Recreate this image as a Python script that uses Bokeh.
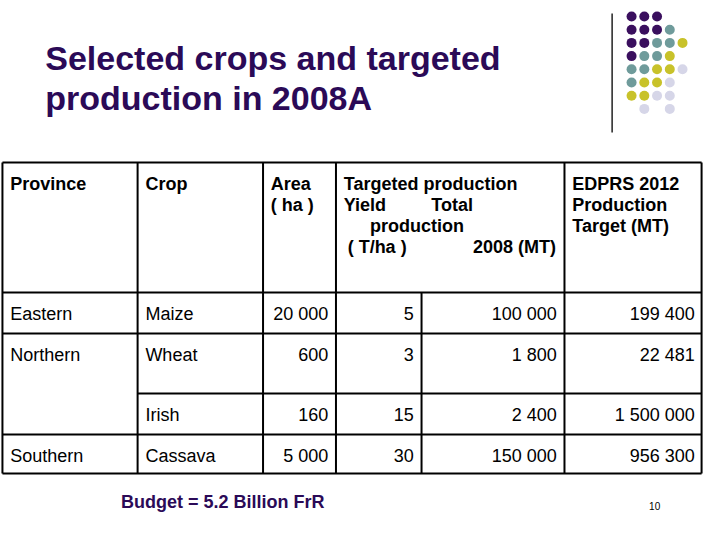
from bokeh.plotting import figure
from bokeh.models import Range1d
from bokeh.embed import file_html
from bokeh.resources import INLINE
from bokeh.core.properties import value

# ---------------- data ----------------
title_lines = ["Selected crops and targeted", "production in 2008A"]
provinces = ["Eastern", "Northern", "", "Southern"]
crops = ["Maize", "Wheat", "Irish", "Cassava"]
area_ha = [20000, 600, 160, 5000]
yield_t_ha = [5, 3, 15, 30]
total_2008_mt = [100000, 1800, 2400, 150000]
edprs_2012_mt = [199400, 22481, 1500000, 956300]
budget_note = "Budget = 5.2 Billion FrR"
page_number = "10"

def fmt(v):
    return f"{v:,}".replace(",", " ")

FONT = value("Liberation Sans")
PURPLE = "#2B0A57"

p = figure(width=704, height=524, x_range=Range1d(-2, 722), y_range=Range1d(524, 0),
           output_backend="svg", toolbar_location=None, min_border=0,
           x_axis_location=None, y_axis_location=None)
p.grid.visible = False
p.outline_line_color = None

# ---------------- decoration ----------------
p.segment(x0=[627], y0=[13], x1=[627], y1=[132], line_color="#222222", line_width=1.5)
dot_rows = ["PPP..", "PPPT.", "PPTTY", "PTTY.", "TTYYL", "TYYL.", "YYLL.", ".L.L."]
dot_cols = {"P": "#3A0F5E", "T": "#6F9B9B", "Y": "#C8C22A", "L": "#D6D6E8"}
dx, dy, dc = [], [], []
for r, row in enumerate(dot_rows):
    for c, ch in enumerate(row):
        if ch in dot_cols:
            dx.append(647 + 13.1 * c)
            dy.append(16 + 13.2 * r)
            dc.append(dot_cols[ch])
p.scatter(dx, dy, size=10, fill_color=dc, line_color=None)

# ---------------- title ----------------
p.text(x=[44, 44], y=[57, 97], text=title_lines, text_font=FONT, text_font_style="bold",
       text_font_size="34px", text_color=PURPLE, text_baseline="alphabetic")

# ---------------- table grid ----------------
col_x = [0, 139, 268, 343, 578, 719]
split_x = 431
head_top = 162
row_b = [292, 333, 393, 434, 473]
x0, y0, x1, y1 = [], [], [], []
for y in [head_top, row_b[0], row_b[1], row_b[3], row_b[4]]:
    x0 += [col_x[0]]; x1 += [col_x[-1]]; y0 += [y]; y1 += [y]
x0 += [col_x[1]]; x1 += [col_x[-1]]; y0 += [row_b[2]]; y1 += [row_b[2]]
for x in col_x:
    x0 += [x]; x1 += [x]; y0 += [head_top]; y1 += [row_b[-1]]
x0 += [split_x]; x1 += [split_x]; y0 += [row_b[0]]; y1 += [row_b[-1]]
p.segment(x0=x0, y0=y0, x1=x1, y1=y1, line_color="black", line_width=2)

# ---------------- header ----------------
hb = head_top + 21
ls = 21
hx = [8, 147, 276, 276, 351, 351, 441, 378, 355, 484, 586, 586, 586]
hy = [hb, hb, hb, hb + ls, hb, hb + ls, hb + ls, hb + 2 * ls, hb + 3 * ls, hb + 3 * ls, hb, hb + ls, hb + 2 * ls]
ht = ["Province", "Crop", "Area", "( ha )", "Targeted production", "Yield", "Total",
      "production", "( T/ha )", "2008 (MT)", "EDPRS 2012", "Production", "Target (MT)"]
p.text(x=hx, y=hy, text=ht, text_font=FONT, text_font_style="bold", text_font_size="18px",
       text_color="black", text_baseline="alphabetic")

# ---------------- body ----------------
base = [t + 21 for t in row_b[:-1]]
p.text(x=[8] * 4, y=base, text=provinces, text_font=FONT, text_font_size="18px",
       text_color="black", text_baseline="alphabetic")
p.text(x=[147] * 4, y=base, text=crops, text_font=FONT, text_font_size="18px",
       text_color="black", text_baseline="alphabetic")
for right, vals in [(col_x[3] - 8, area_ha), (split_x - 8, yield_t_ha),
                    (col_x[4] - 8, total_2008_mt), (col_x[5] - 7, edprs_2012_mt)]:
    p.text(x=[right] * 4, y=base, text=[fmt(v) for v in vals], text_font=FONT,
           text_font_size="18px", text_color="black", text_align="right",
           text_baseline="alphabetic")

# ---------------- footer ----------------
p.text(x=[122], y=[501], text=[budget_note], text_font=FONT, text_font_style="bold",
       text_font_size="18px", text_color=PURPLE, text_baseline="alphabetic")
p.text(x=[665], y=[505], text=[page_number], text_font=FONT, text_font_size="10px",
       text_color="black", text_baseline="alphabetic")

open("out.html", "w").write(file_html(p, INLINE))
